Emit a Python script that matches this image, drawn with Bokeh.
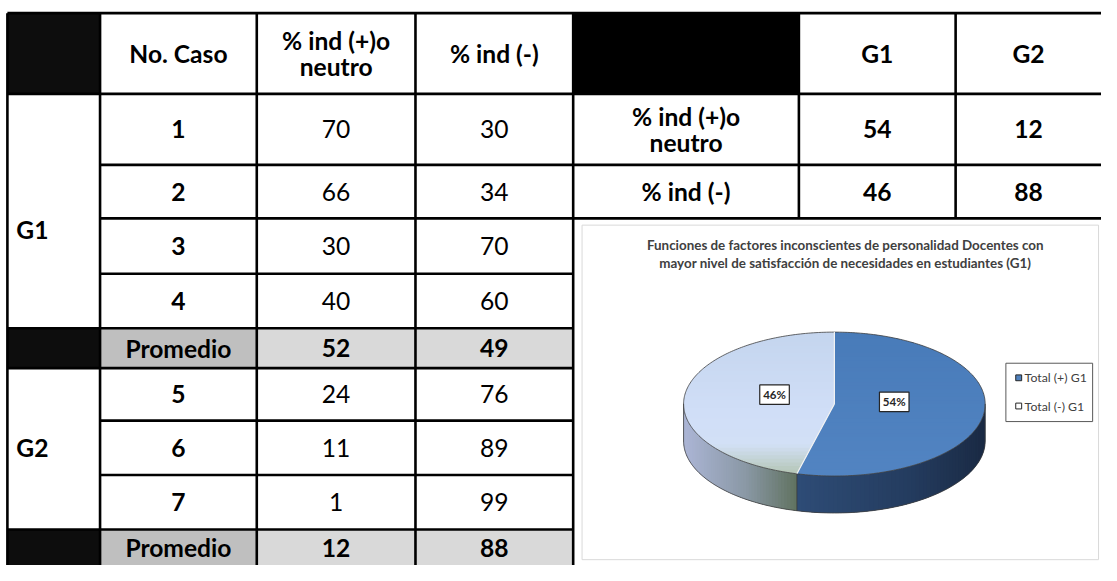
import numpy as np
from bokeh.plotting import figure
from bokeh.models import Range1d
from bokeh.core.properties import value
from bokeh.embed import file_html
from bokeh.resources import INLINE

# ---------------- data ----------------
header_left = ["No. Caso", "% ind (+)o\nneutro", "% ind (-)"]
groups = ["G1", "G2"]
cases_g1 = ["1", "2", "3", "4"]
pos_g1 = [70, 66, 30, 40]
neg_g1 = [30, 34, 70, 60]
prom_g1 = [52, 49]
cases_g2 = ["5", "6", "7"]
pos_g2 = [24, 11, 1]
neg_g2 = [76, 89, 99]
prom_g2 = [12, 88]
prom_label = "Promedio"

header_right = ["G1", "G2"]
summary_rows = ["% ind (+)o\nneutro", "% ind (-)"]
summary_g1 = [54, 46]
summary_g2 = [12, 88]

chart_title = ["Funciones de factores inconscientes de personalidad Docentes con",
               "mayor nivel de satisfacción de necesidades en estudiantes (G1)"]
pie_labels = ["Total (+) G1", "Total (-) G1"]
pie_values = [54, 46]

# ---------------- layout ----------------
FONT = value("Lato")
BIG = value("24.6px")
col_l = [7, 101, 260, 421, 581]           # left table column edges
col_r = [581, 810, 969, 1117]             # right table column edges
row_y = [13, 96, 169, 224, 281, 337, 378, 432, 488, 544, 582]
BLACK = "#0d0d0d"
GRAY_LBL = "#bfbfbf"
GRAY_VAL = "#d9d9d9"

p = figure(width=1101, height=565, x_range=Range1d(0, 1117), y_range=Range1d(581, 0),
           output_backend="svg", toolbar_location=None, min_border=0)
p.axis.visible = False
p.grid.visible = False
p.outline_line_color = None
p.background_fill_color = "white"
p.border_fill_color = "white"

def mid(a, b):
    return (a + b) / 2.0

# ---------------- cell fills ----------------
fl, fr, ft, fb, fc = [], [], [], [], []
def cell(l, r, t, b, c):
    fl.append(l); fr.append(r); ft.append(t); fb.append(b); fc.append(c)

cell(col_l[0], col_l[1], row_y[0], row_y[1], BLACK)
cell(col_r[0], col_r[1], row_y[0], row_y[1], "#000000")
for ri in (5, 9):
    bot = row_y[ri + 1] + (10 if ri == 9 else 0)
    cell(col_l[0], col_l[1], row_y[ri], bot, BLACK)
    cell(col_l[1], col_l[2], row_y[ri], bot, GRAY_LBL)
    cell(col_l[2], col_l[3], row_y[ri], bot, GRAY_VAL)
    cell(col_l[3], col_l[4], row_y[ri], bot, GRAY_VAL)
p.quad(left=fl, right=fr, top=ft, bottom=fb, fill_color=fc, line_color=None)

# ---------------- chart area box ----------------
p.quad(left=[590], right=[1114], top=[231], bottom=[575], fill_color="white",
       line_color="#d9d9d9", line_width=1)

# ---------------- grid lines ----------------
x0, y0, x1, y1 = [], [], [], []
def seg(a, b, c, d):
    x0.append(a); y0.append(b); x1.append(c); y1.append(d)

seg(col_l[0], row_y[0], 1125, row_y[0])
seg(col_l[0], row_y[1], 1125, row_y[1])
for ri in (2, 3):
    seg(col_l[1], row_y[ri], 1125, row_y[ri])
for ri in (4, 7, 8):
    seg(col_l[1], row_y[ri], col_l[4], row_y[ri])
for ri in (5, 6, 9):
    seg(col_l[0], row_y[ri], col_l[4], row_y[ri])
for cx in col_l:
    seg(cx, row_y[0], cx, 600)
for cx in col_r[1:3]:
    seg(cx, row_y[0], cx, row_y[3])
p.segment(x0=x0, y0=y0, x1=x1, y1=y1, line_color="black", line_width=2.6)

# ---------------- table texts ----------------
tx, ty, tt, tb = [], [], [], []
def txt(x, y, s, bold):
    tx.append(x); ty.append(y); tt.append(s); tb.append(bold)

def multiline(x, yc, s, bold, gap=27):
    lines = s.split("\n")
    n = len(lines)
    for i, ln in enumerate(lines):
        txt(x, yc + (i - (n - 1) / 2.0) * gap, ln, bold)

for ci, h in enumerate(header_left):
    multiline(mid(col_l[ci + 1], col_l[ci + 2]), mid(row_y[0], row_y[1]), h, True)

for k, ri in enumerate(range(1, 5)):
    yc = mid(row_y[ri], row_y[ri + 1])
    txt(mid(col_l[1], col_l[2]), yc, cases_g1[k], True)
    txt(mid(col_l[2], col_l[3]), yc, str(pos_g1[k]), False)
    txt(mid(col_l[3], col_l[4]), yc, str(neg_g1[k]), False)
yc = mid(row_y[5], row_y[6])
txt(mid(col_l[1], col_l[2]), yc, prom_label, True)
txt(mid(col_l[2], col_l[3]), yc, str(prom_g1[0]), True)
txt(mid(col_l[3], col_l[4]), yc, str(prom_g1[1]), True)
for k, ri in enumerate(range(6, 9)):
    yc = mid(row_y[ri], row_y[ri + 1])
    txt(mid(col_l[1], col_l[2]), yc, cases_g2[k], True)
    txt(mid(col_l[2], col_l[3]), yc, str(pos_g2[k]), False)
    txt(mid(col_l[3], col_l[4]), yc, str(neg_g2[k]), False)
yc = mid(row_y[9], row_y[10])
txt(mid(col_l[1], col_l[2]), yc, prom_label, True)
txt(mid(col_l[2], col_l[3]), yc, str(prom_g2[0]), True)
txt(mid(col_l[3], col_l[4]), yc, str(prom_g2[1]), True)

for ci, h in enumerate(header_right):
    txt(mid(col_r[ci + 1], col_r[ci + 2]), mid(row_y[0], row_y[1]), h, True)
for k in range(2):
    yc = mid(row_y[k + 1], row_y[k + 2])
    multiline(mid(col_r[0], col_r[1]), yc, summary_rows[k], True)
    txt(mid(col_r[1], col_r[2]), yc, str(summary_g1[k]), True)
    txt(mid(col_r[2], col_r[3]), yc, str(summary_g2[k]), True)

bx = [x for x, b in zip(tx, tb) if b]
by = [y for y, b in zip(ty, tb) if b]
bt = [t for t, b in zip(tt, tb) if b]
rx_ = [x for x, b in zip(tx, tb) if not b]
ry_ = [y for y, b in zip(ty, tb) if not b]
rt_ = [t for t, b in zip(tt, tb) if not b]
p.text(x=bx, y=by, text=bt, text_font=FONT, text_font_size=BIG, text_font_style="bold",
       text_align="center", text_baseline="middle", text_color="black")
p.text(x=rx_, y=ry_, text=rt_, text_font=FONT, text_font_size=BIG,
       text_align="center", text_baseline="middle", text_color="black")

p.text(x=[16, 16], y=[235, 460], text=groups, text_font=FONT, text_font_size=BIG,
       text_font_style="bold", text_align="left", text_baseline="middle", text_color="black")

# ---------------- chart title ----------------
p.text(x=[857, 857], y=[251, 270], text=chart_title, text_font=FONT,
       text_font_size=value("13.4px"), text_font_style="bold", text_align="center",
       text_baseline="middle", text_color="#404040")

# ---------------- 3D pie ----------------
PCX, PCY, PRX, PRY, DEPTH = 846.0, 415.0, 153.0, 74.0, 38.0
vals = np.array(pie_values, dtype=float)
fracs = vals / vals.sum()
starts = 90.0 - 360.0 * np.concatenate([[0.0], np.cumsum(fracs)[:-1]])
ends = starts - 360.0 * fracs

def ex(th):
    return PCX + PRX * np.cos(np.radians(th))
def ey(th):
    return PCY - PRY * np.sin(np.radians(th))

def lerp_color(stops, t):
    t = min(max(t, 0.0), 1.0)
    for (t0, c0), (t1, c1) in zip(stops[:-1], stops[1:]):
        if t0 <= t <= t1:
            u = 0 if t1 == t0 else (t - t0) / (t1 - t0)
            c = [int(round(a + (b - a) * u)) for a, b in zip(c0, c1)]
            return "#%02x%02x%02x" % tuple(c)
    return "#%02x%02x%02x" % tuple(stops[-1][1])

side_stops = [
    [(0.0, (46, 76, 118)), (0.6, (36, 60, 95)), (1.0, (26, 42, 68))],
    [(0.0, (172, 182, 214)), (0.55, (138, 152, 165)), (1.0, (96, 114, 96))],
]
top_stops = [
    [(0.0, (72, 123, 185)), (1.0, (82, 132, 194))],
    [(0.0, (196, 213, 238)), (0.55, (208, 222, 247)), (0.78, (210, 224, 246)), (1.0, (178, 196, 176))],
]

# side walls: only the front half (angles between -180 and 0) is visible
bxs, bys, bcs = [], [], []
sxs, sys_, scs = [], [], []
for i in range(len(vals)):
    a_hi = starts[i]
    a_lo = ends[i]
    if a_lo < -180.0:
        lo, hi = -180.0, min(a_hi, 0.0)
    else:
        lo, hi = max(a_lo, -180.0), min(a_hi, 0.0)
    if hi <= lo:
        continue
    n = 60
    th = np.linspace(lo, hi, n + 1)
    xa_all = ex(th)
    xmin, xmax = xa_all.min(), xa_all.max()
    # base polygon (under the strips)
    bxs.append(list(ex(th)) + list(ex(th[::-1])))
    bys.append(list(ey(th)) + list(ey(th[::-1]) + DEPTH))
    bcs.append(lerp_color(side_stops[i], 0.5))
    for k in range(n):
        ta = th[k]
        tb_ = th[min(k + 2, n)]
        tcn = th[k + 1]
        xa, xb = ex(ta), ex(tb_)
        ya, yb = ey(ta), ey(tb_)
        sxs.append([xa, xb, xb, xa])
        sys_.append([ya, yb, yb + DEPTH, ya + DEPTH])
        t = (mid(ex(ta), ex(tcn)) - xmin) / (xmax - xmin)
        scs.append(lerp_color(side_stops[i], t))
p.patches(xs=bxs, ys=bys, fill_color=bcs, line_color=None)
p.patches(xs=sxs, ys=sys_, fill_color=scs, line_color=None)

def clip_y(pts, yb, keep_greater):
    out = []
    n = len(pts)
    for k in range(n):
        c = pts[k]; pr = pts[k - 1]
        cin = c[1] >= yb if keep_greater else c[1] <= yb
        pin = pr[1] >= yb if keep_greater else pr[1] <= yb
        if cin:
            if not pin:
                t = (yb - pr[1]) / (c[1] - pr[1])
                out.append((pr[0] + t * (c[0] - pr[0]), yb))
            out.append(c)
        elif pin:
            t = (yb - pr[1]) / (c[1] - pr[1])
            out.append((pr[0] + t * (c[0] - pr[0]), yb))
    return out

txs, tys, tcs = [], [], []
for i in range(len(vals)):
    th = np.linspace(starts[i], ends[i], 200)
    pts = [(PCX, PCY)] + [(ex(a), ey(a)) for a in th]
    nb = 40
    ytop, ybot = PCY - PRY, PCY + PRY
    edges = np.linspace(ytop - 1, ybot + 1, nb + 1)
    for k in range(nb):
        band = clip_y(clip_y(pts, edges[k], True), edges[k + 1] + 1.0, False)
        if len(band) < 3:
            continue
        txs.append([q[0] for q in band]); tys.append([q[1] for q in band])
        tcs.append(lerp_color(top_stops[i], (mid(edges[k], edges[k + 1]) - ytop) / (ybot - ytop)))
p.patches(xs=txs, ys=tys, fill_color=tcs, line_color=None)

# outlines
th_all = np.linspace(0, 360, 361)
p.line(x=ex(th_all), y=ey(th_all), line_color="#404040", line_width=0.8)
thf = np.linspace(-180, 0, 181)
p.line(x=ex(thf), y=ey(thf) + DEPTH, line_color="#404040", line_width=0.8)
p.segment(x0=[ex(-180), ex(0)], y0=[ey(-180), ey(0)], x1=[ex(-180), ex(0)],
          y1=[ey(-180) + DEPTH, ey(0) + DEPTH], line_color="#404040", line_width=0.8)
dx0, dy0, dx1, dy1 = [], [], [], []
for a in starts:
    dx0.append(PCX); dy0.append(PCY); dx1.append(ex(a)); dy1.append(ey(a))
p.segment(x0=dx0, y0=dy0, x1=dx1, y1=dy1, line_color="#f2f2f2", line_width=1.2)
fa = [a for a in starts if -180 < a < 0]
p.segment(x0=[ex(a) for a in fa], y0=[ey(a) for a in fa], x1=[ex(a) for a in fa],
          y1=[ey(a) + DEPTH for a in fa], line_color="#3a3a3a", line_width=0.8)

# data labels
mids = (starts + ends) / 2.0
lx = PCX + 0.40 * PRX * np.cos(np.radians(mids))
ly = PCY - 0.40 * PRY * np.sin(np.radians(mids)) - 6
lab = ["%d%%" % round(f * 100) for f in fracs]
p.rect(x=lx, y=ly, width=30, height=20, fill_color="white", line_color="#262626", line_width=1.2)
p.text(x=lx, y=ly, text=lab, text_font=FONT, text_font_size=value("11.5px"),
       text_font_style="bold", text_align="center", text_baseline="middle", text_color="#262626")

# legend
p.quad(left=[1020], right=[1108], top=[373], bottom=[433], fill_color="white",
       line_color="#595959", line_width=1)
leg_y = [388, 417]
p.rect(x=[1033, 1033], y=leg_y, width=6, height=6, fill_color=["#4f81bd", "#ffffff"],
       line_color="#262626", line_width=1)
p.text(x=[1039, 1039], y=leg_y, text=pie_labels, text_font=FONT, text_font_size=value("12.3px"),
       text_align="left", text_baseline="middle", text_color="#404040")

open("out.html", "w").write(file_html(p, INLINE))
